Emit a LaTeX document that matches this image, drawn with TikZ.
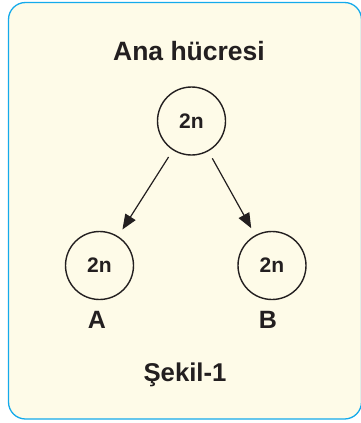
\documentclass[tikz,border=0pt]{standalone}
\usepackage{fontspec}
\setmainfont{Liberation Sans}
\usetikzlibrary{arrows.meta}
\definecolor{panelfill}{RGB}{254,251,232}
\definecolor{panelline}{RGB}{20,170,235}
\definecolor{ink}{RGB}{35,31,32}
\begin{document}
\begin{tikzpicture}[x=1pt,y=-1pt,
  cell/.style={circle,draw=ink,line width=1.4pt,minimum size=68pt,inner sep=0pt,
    font=\fontsize{21}{21}\selectfont\bfseries,text=ink},
  label/.style={font=\fontsize{25}{25}\selectfont\bfseries,text=ink,inner sep=0pt},
  split/.style={draw=ink,line width=1.2pt,shorten <=8pt,shorten >=8pt,
    -{Triangle[length=15pt,width=12pt]}}]
  \useasboundingbox (0,0) rectangle (361,423);
  % panel
  \draw[panelline,fill=panelfill,line width=1.3pt,rounded corners=17pt]
    (8.5,2.5) rectangle (361.5,419);
  % title
  \node[label,font=\fontsize{26.5}{26.5}\selectfont\bfseries] (title) at (189,51) {Ana hücresi};
  % cells
  \node[cell] (mother) at (191.5,121) {2n};
  \node[cell] (a) at (99.5,265.5) {2n};
  \node[cell] (b) at (272,265.5) {2n};
  % division arrows
  \draw[split] (mother) -- (a);
  \draw[split] (mother) -- (b);
  % letters under the daughter cells
  \node[label] (la) at (97,320) {A};
  \node[label] (lb) at (268,320) {B};
  % caption
  \node[label,font=\fontsize{25.7}{25.7}\selectfont\bfseries] (cap) at (185,375) {Şekil-1};
\end{tikzpicture}
\end{document}
